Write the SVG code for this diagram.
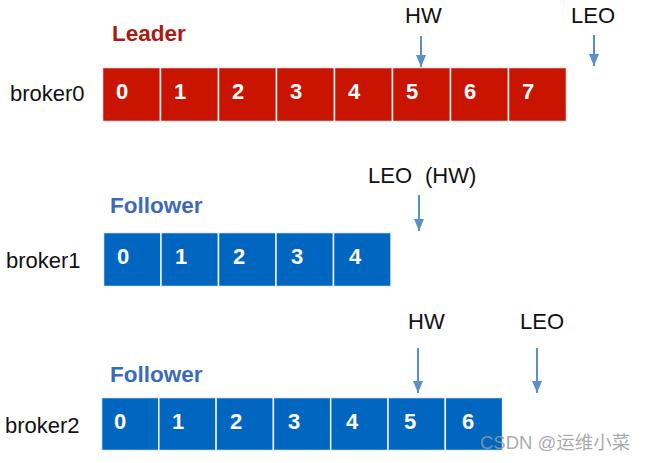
<svg xmlns="http://www.w3.org/2000/svg" width="647" height="463" viewBox="0 0 647 463">
<style>
.lbl{font-family:"Liberation Sans",Arial,sans-serif;font-size:22px;fill:#111}
.title{font-family:"Liberation Sans",Arial,sans-serif;font-size:22.5px;font-weight:bold}
.dig{font-family:"Liberation Sans",Arial,sans-serif;font-size:22px;font-weight:bold;fill:#fff;text-anchor:middle}
.red{fill:#c81400;stroke:#f2eeee;stroke-width:1.5}
.blue{fill:#0066c0;stroke:#eef2f6;stroke-width:1.5}
.arr{stroke:#5b8fc9;stroke-width:2;fill:none;marker-end:url(#ah)}
.wm{font-family:"Liberation Sans","Noto Sans CJK SC",sans-serif;font-size:18.5px;fill:#9a9a9a;fill-opacity:0.85}
</style>
<defs>
<marker id="ah" markerUnits="userSpaceOnUse" markerWidth="13" markerHeight="13" viewBox="0 0 13 13" refX="12" refY="6.5" orient="auto">
<path d="M0,1.5 L12,6.5 L0,11.5 Z" fill="#5b8fc9"/>
</marker>
</defs>

<g id="broker0">
<text class="lbl" x="10" y="101">broker0</text>
<text class="title" x="112" y="41" fill="#ad1a10">Leader</text>
<rect class="red" x="102.5" y="67.5" width="58" height="54"/>
<rect class="red" x="160.5" y="67.5" width="58" height="54"/>
<rect class="red" x="218.5" y="67.5" width="58" height="54"/>
<rect class="red" x="276.5" y="67.5" width="58" height="54"/>
<rect class="red" x="334.5" y="67.5" width="58" height="54"/>
<rect class="red" x="392.5" y="67.5" width="58" height="54"/>
<rect class="red" x="450.5" y="67.5" width="58" height="54"/>
<rect class="red" x="508.5" y="67.5" width="58" height="54"/>
<text class="dig" x="122" y="99">0</text>
<text class="dig" x="180" y="99">1</text>
<text class="dig" x="238" y="99">2</text>
<text class="dig" x="296" y="99">3</text>
<text class="dig" x="354" y="99">4</text>
<text class="dig" x="412" y="99">5</text>
<text class="dig" x="470" y="99">6</text>
<text class="dig" x="528" y="99">7</text>
<text class="lbl" x="405" y="23">HW</text>
<text class="lbl" x="571" y="23">LEO</text>
</g>

<g id="broker1">
<text class="lbl" x="6" y="268">broker1</text>
<text class="title" x="110" y="213" fill="#3d6ab8">Follower</text>
<rect class="blue" x="103.5" y="232.5" width="57.5" height="54"/>
<rect class="blue" x="161" y="232.5" width="57.5" height="54"/>
<rect class="blue" x="218.5" y="232.5" width="57.5" height="54"/>
<rect class="blue" x="276" y="232.5" width="57.5" height="54"/>
<rect class="blue" x="333.5" y="232.5" width="57.5" height="54"/>
<text class="dig" x="123" y="264">0</text>
<text class="dig" x="181" y="264">1</text>
<text class="dig" x="239" y="264">2</text>
<text class="dig" x="297" y="264">3</text>
<text class="dig" x="355" y="264">4</text>
<text class="lbl" x="368" y="183">LEO</text>
<text class="lbl" x="425" y="183">(HW)</text>
</g>

<g id="broker2">
<text class="lbl" x="5" y="433">broker2</text>
<text class="title" x="110" y="382" fill="#3d6ab8">Follower</text>
<rect class="blue" x="101.5" y="397.5" width="57.3" height="53"/>
<rect class="blue" x="158.8" y="397.5" width="57.3" height="53"/>
<rect class="blue" x="216.1" y="397.5" width="57.3" height="53"/>
<rect class="blue" x="273.4" y="397.5" width="57.3" height="53"/>
<rect class="blue" x="330.7" y="397.5" width="57.3" height="53"/>
<rect class="blue" x="388" y="397.5" width="57.3" height="53"/>
<rect class="blue" x="445.3" y="397.5" width="57.3" height="53"/>
<text class="dig" x="120" y="429">0</text>
<text class="dig" x="178" y="429">1</text>
<text class="dig" x="236" y="429">2</text>
<text class="dig" x="294" y="429">3</text>
<text class="dig" x="352" y="429">4</text>
<text class="dig" x="410" y="429">5</text>
<text class="dig" x="468" y="429">6</text>
<text class="lbl" x="408" y="329">HW</text>
<text class="lbl" x="520" y="329">LEO</text>
</g>

<g id="connectors">
<line class="arr" x1="421" y1="36" x2="421" y2="67"/>
<line class="arr" x1="594" y1="35" x2="594" y2="66"/>
<line class="arr" x1="419" y1="195" x2="419" y2="231"/>
<line class="arr" x1="418" y1="348" x2="418" y2="393"/>
<line class="arr" x1="537" y1="348" x2="537" y2="393"/>
</g>

<text class="wm" x="480" y="449">CSDN @运维小菜</text>
</svg>
